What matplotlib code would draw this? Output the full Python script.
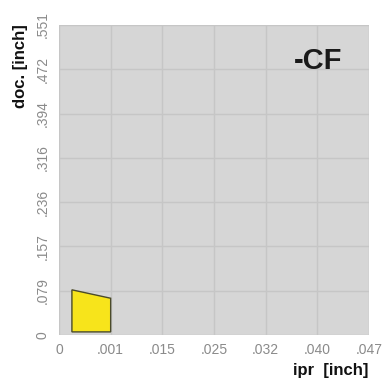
import matplotlib
matplotlib.use("Agg")
import matplotlib.pyplot as plt
from matplotlib.patches import Polygon

plt.rcParams['font.family'] = ['Liberation Sans', 'DejaVu Sans']

# Tick labels (axis positions are category slots 0..n)
x_tick_labels = ["0", ".001", ".015", ".025", ".032", ".040", ".047"]
y_tick_labels = ["0", ".079", ".157", ".236", ".316", ".394", ".472", ".551"]

# Application area polygon for -CF (in axis slot units)
area_x = [0.25, 1.0, 1.0, 0.25]
area_y = [1.02, 0.83, 0.07, 0.07]
label = "-CF"

fig = plt.figure(figsize=(3.84, 3.81), dpi=100)
ax = fig.add_axes([59/384, 1 - 335/381, 310/384, 310/381])
ax.set_facecolor("#d6d6d6")
ax.set_xlim(0, len(x_tick_labels) - 1)
ax.set_ylim(0, len(y_tick_labels) - 1)

ax.set_xticks(range(len(x_tick_labels)))
ax.set_xticklabels(x_tick_labels)
ax.set_yticks(range(len(y_tick_labels)))
ax.set_yticklabels(y_tick_labels, rotation=90, va="center")
ax.tick_params(length=0, labelsize=10, labelcolor="#8a8a8a")
ax.tick_params(axis="x", pad=6)
ax.tick_params(axis="y", pad=7)

ax.grid(True, color="#c6c6c6", linewidth=1.0)
ax.set_axisbelow(True)
for s in ax.spines.values():
    s.set_visible(False)

poly = Polygon(list(zip(area_x, area_y)), closed=True, facecolor="#f7e41b",
               edgecolor="#4a4a2a", linewidth=1.0, zorder=3)
ax.add_patch(poly)

ax.text(0.915, 0.885, label, transform=ax.transAxes, ha="right", va="center",
        fontsize=21, fontweight="bold", color="#1a1a1a")

fig.text(21/384, 1 - 66/381, "doc. [inch]", rotation=90, ha="center", va="center",
         fontsize=12, fontweight="bold", color="#111111")
fig.text(331/384, 1 - 371/381, "ipr  [inch]", ha="center", va="center",
         fontsize=12, fontweight="bold", color="#111111")

fig.savefig("out.png", dpi=100)
